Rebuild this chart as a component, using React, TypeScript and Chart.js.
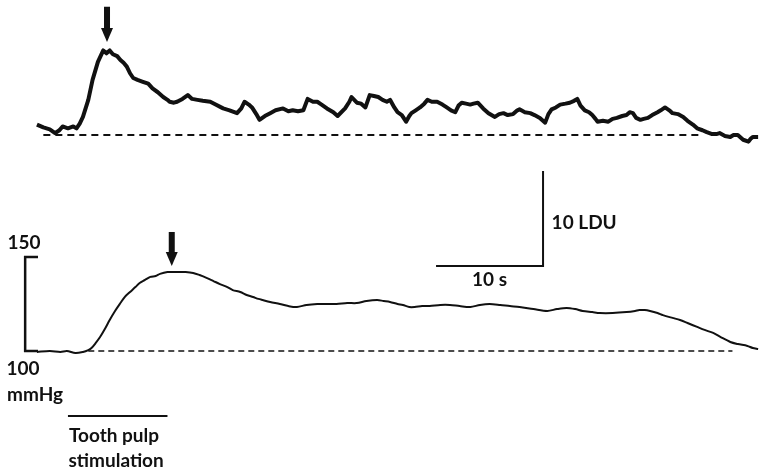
import React, { useEffect, useRef } from "react";
import { Chart, registerables } from "chart.js";

Chart.register(...registerables);

// ---- Laser Doppler flux (LDU, relative to pre-stimulus baseline) ----
const ldTimes = [
  -0.1, 0.5, 1.1, 1.6, 2.0, 2.3, 2.8, 3.3, 3.6, 3.9, 4.2, 4.7, 5.1, 5.6, 6.1, 6.4, 6.7, 7.0, 7.4, 7.7,
  8.0, 8.3, 8.6, 8.9, 9.3, 9.8, 10.3, 10.7, 11.2, 11.7, 12.1, 12.3, 12.7, 13.0, 13.5, 14.0, 14.4, 14.9, 15.4, 16.1,
  16.6, 17.3, 17.9, 18.6, 19.0, 19.3, 19.7, 20.0, 20.4, 20.7, 21.2, 21.7, 22.2, 22.9, 23.4, 23.8, 24.3, 24.8, 25.2, 25.7,
  26.1, 26.5, 27.0, 27.6, 28.0, 28.7, 29.1, 29.3, 29.8, 30.2, 30.6, 31.0, 31.4, 31.8, 32.2, 32.6, 32.9, 33.3, 33.6, 34.0,
  34.4, 34.7, 34.9, 35.3, 35.7, 36.1, 36.4, 36.8, 37.3, 37.8, 38.2, 38.6, 39.0, 39.3, 39.6, 40.0, 40.4, 40.7, 41.1, 41.6,
  42.1, 42.7, 43.1, 43.5, 43.9, 44.4, 44.8, 45.0, 45.5, 46.0, 46.4, 46.9, 47.4, 47.7, 48.0, 48.4, 48.8, 49.3, 49.7, 50.1,
  50.4, 50.7, 51.1, 51.5, 51.8, 52.1, 52.3, 52.8, 53.3, 53.7, 54.1, 54.6, 55.0, 55.3, 55.6, 55.9, 56.3, 56.6, 57.0, 57.4,
  57.9, 58.2, 58.6, 59.0, 59.3, 59.8, 60.3, 60.7, 61.2, 61.6, 62.1, 62.5, 63.0, 63.4, 63.7, 64.2, 64.7, 65.0, 65.4, 65.9,
  66.4, 66.6, 66.8, 67.3,
];
const ldValues = [
  1.1, 0.8, 0.6, 0.2, 0.5, 0.9, 0.7, 0.9, 0.7, 1.2, 1.9, 3.7, 5.8, 7.7, 8.9, 8.6, 8.9, 8.5, 8.3, 7.9,
  7.6, 7.2, 6.5, 6.0, 5.8, 5.6, 5.4, 4.9, 4.5, 4.0, 3.7, 3.5, 3.4, 3.5, 3.8, 4.2, 3.8, 3.7, 3.6, 3.5,
  3.2, 2.8, 2.6, 2.3, 2.8, 3.5, 3.2, 2.9, 2.2, 1.6, 2.0, 2.3, 2.6, 2.8, 2.5, 2.6, 2.5, 2.6, 3.8, 3.5,
  3.5, 3.2, 2.8, 2.4, 2.0, 2.8, 3.5, 4.0, 3.4, 3.3, 2.9, 4.2, 4.1, 4.0, 3.7, 3.5, 3.7, 2.9, 2.4, 2.1,
  1.4, 2.0, 2.3, 2.6, 2.9, 3.3, 3.7, 3.5, 3.5, 3.2, 2.9, 2.6, 2.4, 3.1, 3.4, 3.3, 3.2, 3.3, 3.4, 2.8,
  2.3, 1.9, 2.2, 2.3, 2.1, 2.2, 2.6, 2.7, 2.4, 2.3, 2.1, 1.8, 1.3, 2.2, 2.7, 2.9, 3.2, 3.3, 3.4, 3.6,
  3.8, 3.1, 2.6, 2.4, 2.1, 1.7, 1.4, 1.5, 1.4, 1.7, 1.8, 2.0, 2.1, 2.4, 2.3, 1.8, 1.6, 1.7, 1.8, 2.1,
  2.4, 2.6, 2.9, 2.6, 2.3, 2.2, 1.9, 1.5, 1.1, 0.7, 0.5, 0.3, 0.1, 0.1, 0.2, -0.1, -0.2, 0.0, 0.0, -0.5,
  -0.7, -0.4, -0.2, -0.2,
];

// ---- Arterial blood pressure (mmHg) ----
const bpTimes = [
  -0.1, 1.1, 2.1, 2.7, 3.5, 4.2, 4.7, 5.0, 5.4, 5.8, 6.3, 6.7, 7.2, 7.7, 8.1, 8.6, 9.1, 9.5, 10.0, 10.5,
  11.0, 11.4, 12.1, 12.6, 13.3, 13.8, 14.5, 15.1, 15.8, 16.4, 17.0, 17.7, 18.2, 18.9, 19.5, 20.1, 20.6, 21.0, 21.7, 22.6,
  23.4, 24.2, 25.1, 26.1, 27.0, 27.9, 28.9, 29.8, 30.7, 31.7, 32.3, 32.9, 33.6, 34.1, 34.7, 35.2, 35.9, 36.6, 37.6, 38.5,
  39.4, 40.4, 41.3, 42.2, 43.2, 44.1, 45.0, 46.3, 47.6, 48.5, 49.4, 50.2, 50.9, 51.8, 52.5, 53.7, 55.0, 55.8, 56.2, 56.7,
  57.2, 57.9, 58.4, 59.3, 60.0, 60.7, 61.6, 62.3, 63.1, 63.8, 64.7, 65.4, 66.3, 66.8, 67.3,
];
const bpValues = [
  99.5, 100.0, 99.5, 100.0, 98.9, 99.5, 100.5, 101.6, 104.3, 107.4, 112.2, 116.5, 121.3, 125.5, 128.7, 131.4, 134.0, 136.2, 137.8, 139.4,
  139.9, 141.0, 142.0, 142.0, 142.0, 142.0, 141.5, 140.4, 138.8, 137.2, 135.6, 134.0, 132.4, 131.4, 129.8, 128.7, 127.7, 127.1, 126.1, 125.0,
  123.9, 123.4, 124.5, 125.0, 125.0, 125.0, 125.5, 125.5, 126.6, 127.1, 126.6, 126.1, 125.0, 124.5, 123.4, 123.4, 123.9, 123.9, 124.5, 124.5,
  123.9, 123.4, 124.5, 125.0, 124.5, 123.9, 123.4, 122.3, 121.3, 122.3, 122.9, 122.3, 121.3, 120.7, 120.2, 120.2, 120.7, 121.3, 121.8, 121.8,
  121.3, 120.2, 119.1, 117.6, 116.5, 114.9, 112.8, 111.2, 109.6, 107.4, 104.8, 103.7, 102.7, 101.6, 101.1,
];

// Baselines
const ldBaselineTimes = [0.5, 62.1];
const ldBaselineValue = 0;
const bpBaselineTimes = [4.7, 64.9];
const bpBaselineValue = 100;

// Scale bars (10 s, 10 LDU)
const scaleBarTimes = [37.2, 47.2, 47.2];
const scaleBarValues = [-13.8, -13.8, -3.8];

// mmHg bracket (100 - 150)
const bracketTimes = [0.0, -1.2, -1.2, 0.0];
const bracketValues = [150, 150, 100, 100];

// Stimulation period
const stimTimes = [2.8, 12.1];
const stimValue = 65.4;

// Peak arrows: [time, from, to, axis]
const arrowTimes = [6.45, 12.5];
const arrowFrom = [13.5, 163.3];
const arrowTo = [9.8, 145.2];
const arrowAxes = ["yLdu", "yBp"];

// Labels
const labelTexts = ["150", "100", "mmHg", "Tooth pulp", "stimulation", "10 s", "10 LDU"];
const labelTimes = [-1.3, -1.4, -0.28, 7.1, 7.3, 42.2, 48.0];
const labelValues = [157.4, 90.4, 76.6, 54.8, 41.5, -15.2, -9.2];
const labelAxes = ["yBp", "yBp", "yBp", "yBp", "yBp", "yLdu", "yLdu"];
const labelAlign = ["center", "center", "center", "center", "center", "center", "left"];

const FONT = "bold 19px Lato, 'Open Sans', sans-serif";

const overlayPlugin = {
  id: "overlay",
  afterDatasetsDraw(chart: any) {
    const ctx = chart.ctx;
    const xs = chart.scales.x;
    ctx.save();
    ctx.fillStyle = "#111";
    ctx.strokeStyle = "#111";
    for (let i = 0; i < arrowTimes.length; i++) {
      const ys = chart.scales[arrowAxes[i]];
      const x = xs.getPixelForValue(arrowTimes[i]);
      const y0 = ys.getPixelForValue(arrowFrom[i]);
      const y1 = ys.getPixelForValue(arrowTo[i]);
      const head = 14;
      ctx.fillRect(x - 3, y0, 6, y1 - y0 - head + 1);
      ctx.beginPath();
      ctx.moveTo(x - 6, y1 - head);
      ctx.lineTo(x + 6, y1 - head);
      ctx.lineTo(x, y1);
      ctx.closePath();
      ctx.fill();
    }
    ctx.font = FONT;
    ctx.textBaseline = "middle";
    for (let i = 0; i < labelTexts.length; i++) {
      const ys = chart.scales[labelAxes[i]];
      ctx.textAlign = labelAlign[i];
      ctx.fillText(labelTexts[i], xs.getPixelForValue(labelTimes[i]), ys.getPixelForValue(labelValues[i]));
    }
    ctx.restore();
  },
};

const pts = (xs: number[], ys: number[]) => xs.map((x, i) => ({ x, y: ys[i] }));

export default function App() {
  const ref = useRef<HTMLCanvasElement | null>(null);
  useEffect(() => {
    document.body.style.margin = "0";
    document.body.style.background = "#fff";
    const canvas = ref.current!;
    const base = {
      fill: false,
      pointRadius: 0,
      tension: 0,
      borderColor: "#111",
    };
    const chart = new Chart(canvas, {
      type: "line",
      data: {
        datasets: [
          { ...base, data: pts(ldBaselineTimes, ldBaselineTimes.map(() => ldBaselineValue)), yAxisID: "yLdu", borderWidth: 1.8, borderDash: [7, 5] },
          { ...base, data: pts(bpBaselineTimes, bpBaselineTimes.map(() => bpBaselineValue)), yAxisID: "yBp", borderWidth: 1.5, borderDash: [6, 4] },
          { ...base, data: pts(ldTimes, ldValues), yAxisID: "yLdu", borderWidth: 4, borderJoinStyle: "round" },
          { ...base, data: pts(bpTimes, bpValues), yAxisID: "yBp", borderWidth: 2, tension: 0.3 },
          { ...base, data: pts(scaleBarTimes, scaleBarValues), yAxisID: "yLdu", borderWidth: 2 },
          { ...base, data: pts(bracketTimes, bracketValues), yAxisID: "yBp", borderWidth: 2.5 },
          { ...base, data: pts(stimTimes, stimTimes.map(() => stimValue)), yAxisID: "yBp", borderWidth: 2 },
        ],
      },
      options: {
        responsive: false,
        animation: false,
        devicePixelRatio: 1,
        layout: { padding: 0 },
        plugins: { legend: { display: false }, tooltip: { enabled: false } },
        scales: {
          x: { type: "linear", min: -3.551, max: 68.13, display: false },
          yLdu: { type: "linear", min: -35.68, max: 14.21, display: false },
          yBp: { type: "linear", min: 34.57, max: 286.7, display: false },
        },
      },
      plugins: [overlayPlugin],
    });
    return () => chart.destroy();
  }, []);
  return (
    <div style={{ width: 767, height: 474, background: "#fff" }}>
      <canvas ref={ref} width={767} height={474} style={{ display: "block" }} />
    </div>
  );
}
